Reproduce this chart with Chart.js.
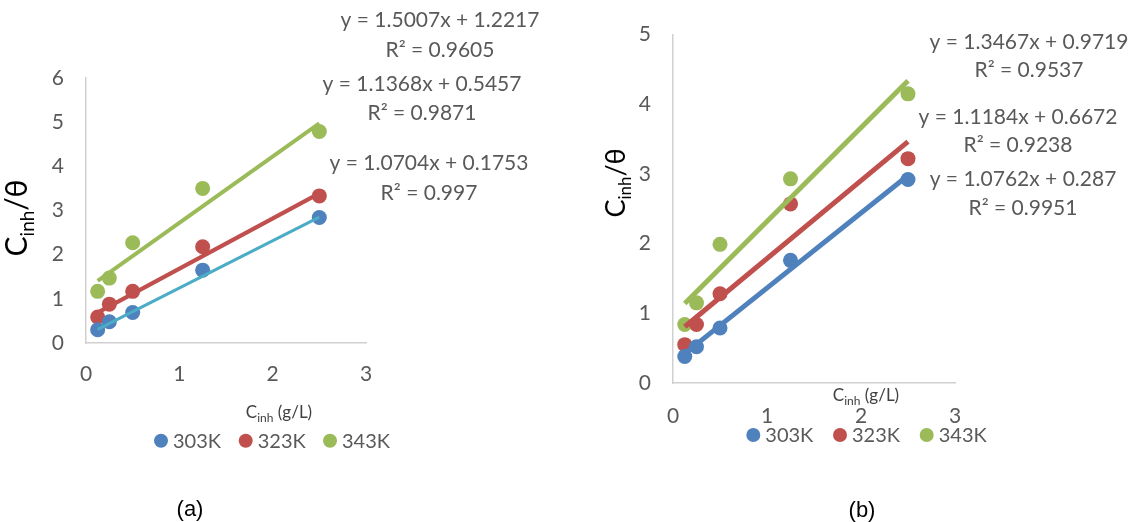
<!DOCTYPE html>
<html><head><meta charset="utf-8">
<script src="https://cdn.jsdelivr.net/npm/chart.js@4/dist/chart.umd.min.js"></script>
<style>
html,body{margin:0;padding:0;background:#fff;width:1130px;height:522px;overflow:hidden}
.wrap{position:absolute;top:0;width:565px;height:522px}
canvas{display:block}
</style></head><body>
<div class="wrap" style="left:0"><canvas id="ca" width="565" height="522" style="width:565px;height:522px"></canvas></div>
<div class="wrap" style="left:565px"><canvas id="cb" width="565" height="522" style="width:565px;height:522px"></canvas></div>
<script>
// ---------- DATA ----------
const xConc = [0.125, 0.25, 0.5, 1.25, 2.5];          // Cinh (g/L)
const seriesNames = ['303K', '323K', '343K'];
const xTicks = [0, 1, 2, 3];
const yTicksA = [0, 1, 2, 3, 4, 5, 6];
const yTicksB = [0, 1, 2, 3, 4, 5];

// panel (a)
const a303 = [0.30, 0.48, 0.69, 1.65, 2.84];
const a323 = [0.59, 0.88, 1.17, 2.18, 3.33];
const a343 = [1.17, 1.47, 2.27, 3.50, 4.79];
const aSlope = [1.0704, 1.1368, 1.5007];
const aIntercept = [0.1753, 0.5457, 1.2217];
const aR2 = [0.997, 0.9871, 0.9605];

// panel (b)
const b303 = [0.38, 0.52, 0.79, 1.76, 2.92];
const b323 = [0.55, 0.84, 1.28, 2.57, 3.22];
const b343 = [0.84, 1.15, 1.99, 2.93, 4.15];
const bSlope = [1.0762, 1.1184, 1.3467];
const bIntercept = [0.287, 0.6672, 0.9719];
const bR2 = [0.9951, 0.9238, 0.9537];

// ---------- STYLE ----------
const FONT = 'Lato, "Open Sans", sans-serif';
const GREY = '#595959';
const markerColors = ['#4F81BD', '#C0504D', '#9BBB59'];

function drawParts(ctx, x, y, parts, color) {
  let total = 0;
  parts.forEach(p => { ctx.font = p.size + 'px ' + FONT; p.w = ctx.measureText(p.t).width; total += p.w; });
  let cx = x - total / 2;
  ctx.fillStyle = color;
  ctx.textAlign = 'left';
  ctx.textBaseline = 'alphabetic';
  parts.forEach(p => { ctx.font = p.size + 'px ' + FONT; ctx.fillText(p.t, cx, y + (p.dy || 0)); cx += p.w; });
}

const overlayPlugin = {
  id: 'overlay',
  afterDraw(chart, args, o) {
    const ctx = chart.ctx;
    ctx.save();
    // y-axis title (rotated, with subscript)
    ctx.save();
    ctx.translate(o.yTitle.x, o.yTitle.y);
    ctx.rotate(-Math.PI / 2);
    drawParts(ctx, 0, 0, [
      {t: 'C', size: o.yTitle.size},
      {t: 'inh', size: Math.round(o.yTitle.size * 0.62), dy: o.yTitle.size * 0.22},
      {t: '/θ', size: o.yTitle.size}
    ], '#000');
    ctx.restore();
    // x-axis title
    drawParts(ctx, o.xTitle.x, o.xTitle.y, [
      {t: 'C', size: 17},
      {t: 'inh', size: 12, dy: 4},
      {t: ' (g/L)', size: 17}
    ], '#404040');
    // trendline equations
    ctx.font = '21px ' + FONT;
    ctx.fillStyle = GREY;
    ctx.textAlign = 'center';
    ctx.textBaseline = 'middle';
    o.eq.forEach(e => {
      ctx.fillText('y = ' + e.slope + 'x + ' + e.intercept, e.x, e.y);
      ctx.fillText('R² = ' + e.r2, e.x, e.y + e.gap);
    });
    // legend
    ctx.font = '20px ' + FONT;
    ctx.textAlign = 'left';
    ctx.textBaseline = 'middle';
    o.legend.x.forEach((lx, i) => {
      ctx.fillStyle = markerColors[i];
      ctx.beginPath();
      ctx.arc(lx, o.legend.y, 7, 0, Math.PI * 2);
      ctx.fill();
      ctx.fillStyle = GREY;
      ctx.fillText(seriesNames[i], lx + 12, o.legend.y + 1);
    });
    // panel label
    ctx.font = '22px "Liberation Sans", Arial, sans-serif';
    ctx.fillStyle = '#000';
    ctx.textAlign = 'center';
    ctx.textBaseline = 'middle';
    ctx.fillText(o.panel.t, o.panel.x, o.panel.y);
    ctx.restore();
  }
};

function makeChart(id, vals, slopes, intercepts, r2s, trendColors, trendWidth, yTicks, geo, ov) {
  const datasets = [];
  vals.forEach((v, i) => {
    datasets.push({
      label: seriesNames[i],
      data: xConc.map((x, j) => ({x: x, y: v[j]})),
      backgroundColor: markerColors[i],
      borderColor: markerColors[i],
      pointRadius: 7.5, pointHoverRadius: 7.5, borderWidth: 0,
      showLine: false, order: 2
    });
  });
  vals.forEach((v, i) => {
    const xs = [xConc[0], xConc[xConc.length - 1]];
    datasets.push({
      label: seriesNames[i] + ' trend',
      data: xs.map(x => ({x: x, y: slopes[i] * x + intercepts[i]})),
      borderColor: trendColors[i],
      backgroundColor: trendColors[i],
      borderWidth: trendWidth[i],
      pointRadius: 0, pointHoverRadius: 0,
      showLine: true, order: 1
    });
  });
  ov.eq = ov.eqPos.map((p, i) => ({x: p.x, y: p.y, gap: p.gap, slope: slopes[i], intercept: intercepts[i], r2: r2s[i]}));
  return new Chart(document.getElementById(id), {
    type: 'scatter',
    data: {datasets},
    options: {
      responsive: false,
      animation: false,
      layout: {padding: {left: 0, top: geo.top, right: geo.right, bottom: 0}},
      plugins: {legend: {display: false}, tooltip: {enabled: false}, overlay: ov},
      scales: {
        x: {
          type: 'linear', min: xTicks[0], max: xTicks[xTicks.length - 1],
          afterBuildTicks: s => { s.ticks = xTicks.map(v => ({value: v})); },
          ticks: {color: GREY, font: {family: FONT, size: 21}, padding: geo.xPad, maxRotation: 0, autoSkip: false},
          grid: {display: false, drawTicks: false},
          border: {display: true, color: '#D0D0D0', width: 1.5},
          afterFit: s => { s.height = geo.xH; }
        },
        y: {
          type: 'linear', min: yTicks[0], max: yTicks[yTicks.length - 1],
          afterBuildTicks: s => { s.ticks = yTicks.map(v => ({value: v})); },
          ticks: {color: GREY, font: {family: FONT, size: 21}, padding: 22, autoSkip: false},
          grid: {display: false, drawTicks: false},
          border: {display: true, color: '#D0D0D0', width: 1.5},
          afterFit: s => { s.width = geo.yW; }
        }
      }
    },
    plugins: [overlayPlugin]
  });
}

function build() {
  makeChart('ca', [a303, a323, a343], aSlope, aIntercept, aR2,
    ['#4BACC6', '#C0504D', '#9BBB59'], [3, 4, 4], yTicksA,
    {top: 78, right: 199, xH: 179, yW: 86, xPad: 19},
    {
      yTitle: {x: 27, y: 218, size: 30},
      xTitle: {x: 279, y: 418},
      eqPos: [{x: 429, y: 163, gap: 30}, {x: 422, y: 84, gap: 29}, {x: 440, y: 20, gap: 30}],
      legend: {x: [161, 245.7, 330], y: 440.7},
      panel: {t: '(a)', x: 190, y: 510}
    });
  makeChart('cb', [b303, b323, b343], bSlope, bIntercept, bR2,
    ['#4F81BD', '#C0504D', '#9BBB59'], [5, 5, 5], yTicksB,
    {top: 28, right: 175, xH: 139, yW: 108, xPad: 21},
    {
      yTitle: {x: 60, y: 183, size: 27},
      xTitle: {x: 301, y: 401},
      eqPos: [{x: 458, y: 179, gap: 29}, {x: 453, y: 117, gap: 28}, {x: 464, y: 42, gap: 28}],
      legend: {x: [188.3, 275, 361.7], y: 435},
      panel: {t: '(b)', x: 297, y: 511}
    });
}
if (document.fonts && document.fonts.load) {
  Promise.all([document.fonts.load('21px Lato'), document.fonts.load('20px "Liberation Sans"')]).then(build, build);
} else { build(); }
</script>
</body></html>
